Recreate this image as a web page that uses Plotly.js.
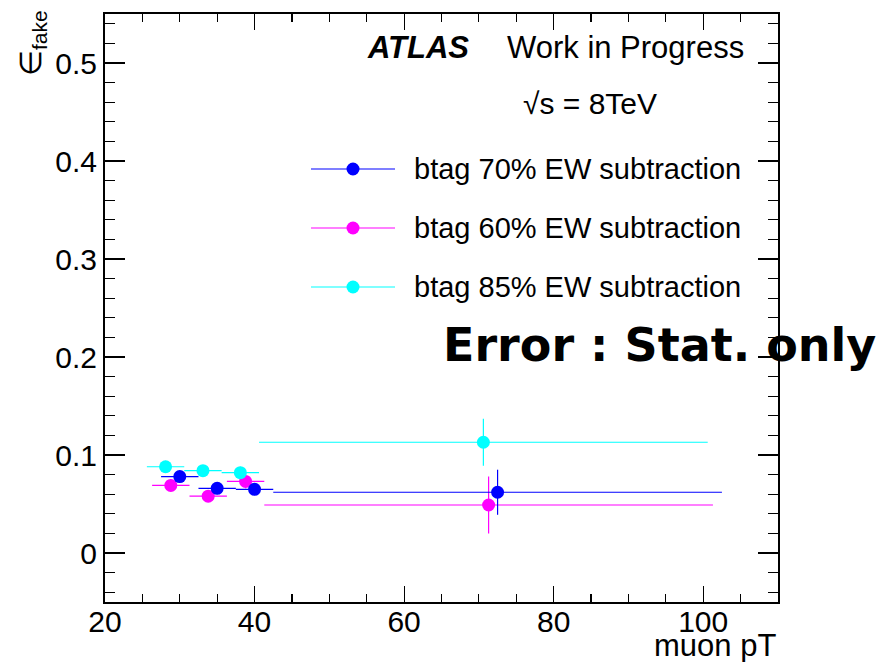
<!DOCTYPE html>
<html>
<head>
<meta charset="utf-8">
<script src="https://cdn.plot.ly/plotly-3.0.1.min.js"></script>
<style>
  html, body { margin: 0; padding: 0; background: #fff; }
  #plot { width: 884px; height: 662px; }
</style>
</head>
<body>
<div id="plot"></div>
<script>
// Fake-muon efficiency vs muon pT for three b-tag working points
const seriesNames  = ['btag 70% EW subtraction', 'btag 60% EW subtraction', 'btag 85% EW subtraction'];
const seriesColors = ['#0000ff', '#ff00ff', '#00ffff'];

// bin centres (GeV) and half-widths
const pt70    = [30.0, 35.0, 40.0, 72.5];
const ptErr70 = [2.5, 2.5, 2.5, 30.0];
const eff70    = [0.078, 0.066, 0.065, 0.062];
const effErr70 = [0.006, 0.006, 0.006, 0.023];

const pt60    = [28.8, 33.8, 38.8, 71.3];
const ptErr60 = [2.5, 2.5, 2.5, 30.0];
const eff60    = [0.069, 0.058, 0.073, 0.049];
const effErr60 = [0.006, 0.006, 0.007, 0.029];

const pt85    = [28.1, 33.1, 38.1, 70.6];
const ptErr85 = [2.5, 2.5, 2.5, 30.0];
const eff85    = [0.088, 0.084, 0.082, 0.113];
const effErr85 = [0.006, 0.005, 0.006, 0.024];

const xTitle = 'muon pT';
const yTitle = '\u2208<sub>fake</sub>';

const FONT = '"Liberation Sans", Arial, Helvetica, sans-serif';

function series(x, xe, y, ye, name, color) {
  return {
    type: 'scatter', mode: 'markers', name: name,
    x: x, y: y,
    error_x: { type: 'data', array: xe, width: 0, thickness: 1.2, color: color },
    error_y: { type: 'data', array: ye, width: 0, thickness: 1.2, color: color },
    marker: { color: color, size: 13, line: { width: 0 } },
    cliponaxis: true,
    showlegend: false
  };
}

const data = [
  series(pt60, ptErr60, eff60, effErr60, seriesNames[1], seriesColors[1]),
  series(pt85, ptErr85, eff85, effErr85, seriesNames[2], seriesColors[2]),
  series(pt70, ptErr70, eff70, effErr70, seriesNames[0], seriesColors[0])
];

// plot frame in pixels
const L = 105, R = 778, T = 14, B = 602;
const W = R - L, H = B - T;
const px = v => (v - L) / W;
const py = v => (B - v) / H;

// hand-drawn legend: line with a centred marker, then the label
const legendRows = [169, 228, 287];
const shapes = [];
const annotations = [];
seriesNames.forEach((name, i) => {
  const yy = py(legendRows[i]);
  shapes.push({
    type: 'line', xref: 'paper', yref: 'paper',
    x0: px(311), x1: px(395), y0: yy, y1: yy,
    line: { color: seriesColors[i], width: 1.2 }
  });
  shapes.push({
    type: 'circle', xref: 'paper', yref: 'paper',
    xsizemode: 'pixel', ysizemode: 'pixel',
    xanchor: px(353), yanchor: yy,
    x0: -6.5, x1: 6.5, y0: -6.5, y1: 6.5,
    fillcolor: seriesColors[i], line: { width: 0 }
  });
  annotations.push({
    xref: 'paper', yref: 'paper', x: px(412), y: yy,
    xanchor: 'left', yanchor: 'middle', showarrow: false,
    text: name, font: { family: FONT, size: 29, color: '#000' }
  });
});

annotations.push(
  { xref: 'paper', yref: 'paper', x: px(365), y: py(48), xanchor: 'left', yanchor: 'middle',
    showarrow: false, text: '<b><i>ATLAS</i></b>', font: { family: FONT, size: 31, color: '#000' } },
  { xref: 'paper', yref: 'paper', x: px(505), y: py(48), xanchor: 'left', yanchor: 'middle',
    showarrow: false, text: 'Work in Progress', font: { family: FONT, size: 31, color: '#000' } },
  { xref: 'paper', yref: 'paper', x: px(521), y: py(103), xanchor: 'left', yanchor: 'middle',
    showarrow: false, text: '\u221As = 8TeV', font: { family: FONT, size: 30, color: '#000' } },
  { xref: 'paper', yref: 'paper', x: px(441), y: py(345), xanchor: 'left', yanchor: 'middle',
    showarrow: false, text: '<b>Error : Stat. only</b>', font: { family: '"DejaVu Sans", Verdana, sans-serif', size: 46, color: '#000' } },
  { xref: 'paper', yref: 'paper', x: px(778), y: py(645), xanchor: 'right', yanchor: 'middle',
    showarrow: false, text: xTitle, font: { family: FONT, size: 31, color: '#000' } },
  { xref: 'paper', yref: 'paper', x: px(32), y: py(8), xanchor: 'center', yanchor: 'top', textangle: -90,
    showarrow: false, text: yTitle, font: { family: FONT, size: 30, color: '#000' } }
);

const axisCommon = {
  showgrid: false, zeroline: false,
  showline: true, linecolor: '#000', linewidth: 2, mirror: 'allticks',
  ticks: 'inside', tickcolor: '#000', tickwidth: 1.2,
  tickfont: { family: FONT, size: 30, color: '#000' }
};

const layout = {
  width: 884, height: 662,
  margin: { l: L, r: 884 - R, t: T, b: 662 - B, pad: 0 },
  paper_bgcolor: '#fff', plot_bgcolor: '#fff',
  showlegend: false,
  xaxis: Object.assign({}, axisCommon, {
    range: [20, 110], tick0: 20, dtick: 20, ticklen: 16, ticklabelstandoff: -8,
    minor: { dtick: 5, tick0: 20, ticks: 'inside', ticklen: 8, tickcolor: '#000', tickwidth: 1.2, showgrid: false }
  }),
  yaxis: Object.assign({}, axisCommon, {
    range: [-0.05, 0.55], tick0: 0, dtick: 0.1, ticklen: 20,
    minor: { dtick: 0.02, tick0: 0, ticks: 'inside', ticklen: 10, tickcolor: '#000', tickwidth: 1.2, showgrid: false }
  }),
  shapes: shapes,
  annotations: annotations
};

Plotly.newPlot('plot', data, layout, { displayModeBar: false, staticPlot: true });
</script>
</body>
</html>
